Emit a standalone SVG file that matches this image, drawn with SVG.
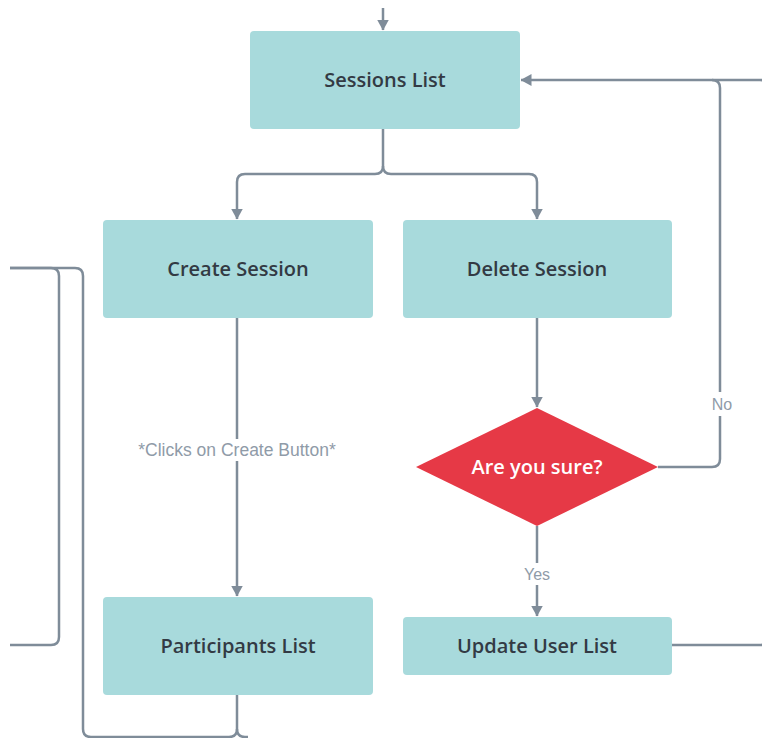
<svg xmlns="http://www.w3.org/2000/svg" width="762" height="738" viewBox="0 0 762 738">
  <style>
    .box { fill: #a8dadc; }
    .title { font-family: "Open Sans", "Noto Sans", sans-serif; font-weight: 600; font-size: 20px; fill: #333a44; text-anchor: middle; dominant-baseline: central; }
    .title-light { fill: #ffffff; }
    .wire { fill: none; stroke: #7f8c99; stroke-width: 2.5; }
    .note { font-family: "Liberation Sans", Arial, sans-serif; font-size: 16px; fill: #8f9ba8; text-anchor: middle; dominant-baseline: central; }
    .note-wide { font-size: 17.5px; }
    .gap { fill: #ffffff; }
  </style>
  <defs>
    <marker id="head" markerUnits="userSpaceOnUse" markerWidth="11" markerHeight="12" refX="10.5" refY="6" orient="auto">
      <path d="M0,0 L11,6 L0,12 z" fill="#7f8c99"/>
    </marker>
  </defs>

  <rect width="762" height="738" fill="#ffffff"/>

  <g id="connectors">
    <!-- entry into Sessions List -->
    <path class="wire" d="M383,8 V30" marker-end="url(#head)"/>
    <!-- Sessions List splits to Create / Delete -->
    <path class="wire" d="M383,129 V166 Q383,174 375,174 H245 Q237,174 237,182 V219" marker-end="url(#head)"/>
    <path class="wire" d="M383,166 Q383,174 391,174 H529 Q537,174 537,182 V219" marker-end="url(#head)"/>
    <!-- Create Session to Participants List -->
    <path class="wire" d="M237,318 V596" marker-end="url(#head)"/>
    <!-- Delete Session to decision -->
    <path class="wire" d="M537,318 V407" marker-end="url(#head)"/>
    <!-- Yes -->
    <path class="wire" d="M537,526 V616" marker-end="url(#head)"/>
    <!-- No: back to Sessions List -->
    <path class="wire" d="M658,467 H712 Q720,467 720,459 V88 Q720,80 712,80 H521" marker-end="url(#head)"/>
    <!-- Update User List back up the right edge -->
    <path class="wire" d="M672,645 H760 Q768,645 768,637 V88 Q768,80 760,80 H712"/>
    <!-- left side loops -->
    <path class="wire" d="M10,268 H51 Q59,268 59,276 V637 Q59,645 51,645 H10"/>
    <path class="wire" d="M10,268 H75 Q83,268 83,276 V729 Q83,737 91,737 H229 Q237,737 237,729 V695"/>
    <path class="wire" d="M237,729 Q237,737 245,737 H248"/>

    <!-- label backgrounds -->
    <rect class="gap" x="134" y="439" width="208" height="22"/>
    <rect class="gap" x="708" y="392" width="28" height="24"/>
    <rect class="gap" x="520" y="563" width="34" height="22"/>
    <text class="note note-wide" x="237" y="450">*Clicks on Create Button*</text>
    <text class="note" x="722" y="404">No</text>
    <text class="note" x="537" y="574">Yes</text>
  </g>

  <g id="sessions-list">
    <rect class="box" x="250" y="31" width="270" height="98" rx="4"/>
    <text class="title" x="385" y="79">Sessions List</text>
  </g>

  <g id="create-session">
    <rect class="box" x="103" y="220" width="270" height="98" rx="4"/>
    <text class="title" x="238" y="268">Create Session</text>
  </g>

  <g id="delete-session">
    <rect class="box" x="403" y="220" width="269" height="98" rx="4"/>
    <text class="title" x="537" y="268">Delete Session</text>
  </g>

  <g id="are-you-sure">
    <polygon points="537,408 658,467 537,526 416,467" fill="#e63946"/>
    <text class="title title-light" x="537" y="466">Are you sure?</text>
  </g>

  <g id="participants-list">
    <rect class="box" x="103" y="597" width="270" height="98" rx="4"/>
    <text class="title" x="238" y="645">Participants List</text>
  </g>

  <g id="update-user-list">
    <rect class="box" x="403" y="617" width="269" height="58" rx="4"/>
    <text class="title" x="537" y="645">Update User List</text>
  </g>
</svg>
